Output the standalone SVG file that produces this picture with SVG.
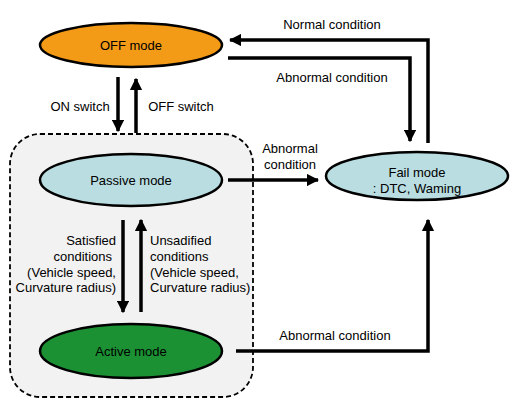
<svg xmlns="http://www.w3.org/2000/svg" width="519" height="407" viewBox="0 0 519 407">
<defs>
<style>
.n{stroke:#000;stroke-width:2.5}
.t{font-family:"Liberation Sans",Arial,sans-serif;font-size:13px;fill:#000}
.c{fill:none;stroke:#000;stroke-width:3.5}
</style>
<marker id="ah" viewBox="0 0 10 10" refX="9" refY="5" markerWidth="3.5" markerHeight="3.5" markerUnits="strokeWidth" orient="auto">
<path d="M0,0 L10,5 L0,10 z" fill="#000"/>
</marker>
</defs>
<rect width="519" height="407" fill="#fff"/>
<rect id="group-box-fill" x="10" y="134" width="243" height="263" rx="30" ry="30" fill="#f2f2f2"/>
<g id="off-mode">
<ellipse class="n" cx="131" cy="45" rx="91" ry="22" fill="#f39a17"/>
<text class="t" x="131" y="49.5" text-anchor="middle">OFF mode</text>
</g>
<g id="passive-mode">
<ellipse class="n" cx="131" cy="180" rx="91" ry="26" fill="#b9dde0"/>
<text class="t" x="131" y="184.5" text-anchor="middle">Passive mode</text>
</g>
<g id="active-mode">
<ellipse class="n" cx="131" cy="351" rx="91" ry="27" fill="#1c9134"/>
<text class="t" x="131" y="355.5" text-anchor="middle">Active mode</text>
</g>
<g id="fail-mode">
<ellipse class="n" cx="417" cy="176" rx="91" ry="24" fill="#b9dde0"/>
<text class="t" x="417" y="177" text-anchor="middle">Fail mode</text>
<text class="t" x="417" y="193" text-anchor="middle">: DTC, Waming</text>
</g>
<g id="connectors">
<path class="c" d="M118,77 V131" marker-end="url(#ah)"/>
<path class="c" d="M136,133 V79" marker-end="url(#ah)"/>
<path class="c" d="M428,143 V40 H230" marker-end="url(#ah)"/>
<path class="c" d="M228,58 H410 V141" marker-end="url(#ah)"/>
<path class="c" d="M228,180 H318" marker-end="url(#ah)"/>
<path class="c" d="M123,220 V312" marker-end="url(#ah)"/>
<path class="c" d="M141,312 V220" marker-end="url(#ah)"/>
<path class="c" d="M236,351 H428 V220" marker-end="url(#ah)"/>
</g>
<rect id="group-box" x="10" y="134" width="243" height="263" rx="30" ry="30" fill="none" stroke="#000" stroke-width="1.8" stroke-dasharray="5,3"/>
<g id="labels">
<text class="t" x="80" y="110.5" text-anchor="middle">ON switch</text>
<text class="t" x="181" y="110.5" text-anchor="middle">OFF switch</text>
<text class="t" x="332" y="28.5" text-anchor="middle">Normal condition</text>
<text class="t" x="332" y="81.5" text-anchor="middle">Abnormal condition</text>
<text class="t" x="290" y="152.5" text-anchor="middle">Abnormal</text>
<text class="t" x="290" y="168.5" text-anchor="middle">condition</text>
<text class="t" x="116" y="244.5" text-anchor="end">Satisfied</text>
<text class="t" x="112" y="260.5" text-anchor="end">conditions</text>
<text class="t" x="116" y="276.5" text-anchor="end">(Vehicle speed,</text>
<text class="t" x="116" y="292" text-anchor="end">Curvature radius)</text>
<text class="t" x="150" y="244.5">Unsadified</text>
<text class="t" x="150" y="260.5">conditions</text>
<text class="t" x="150" y="276.5">(Vehicle speed,</text>
<text class="t" x="150" y="292">Curvature radius)</text>
<text class="t" x="335" y="339.5" text-anchor="middle">Abnormal condition</text>
</g>
</svg>
